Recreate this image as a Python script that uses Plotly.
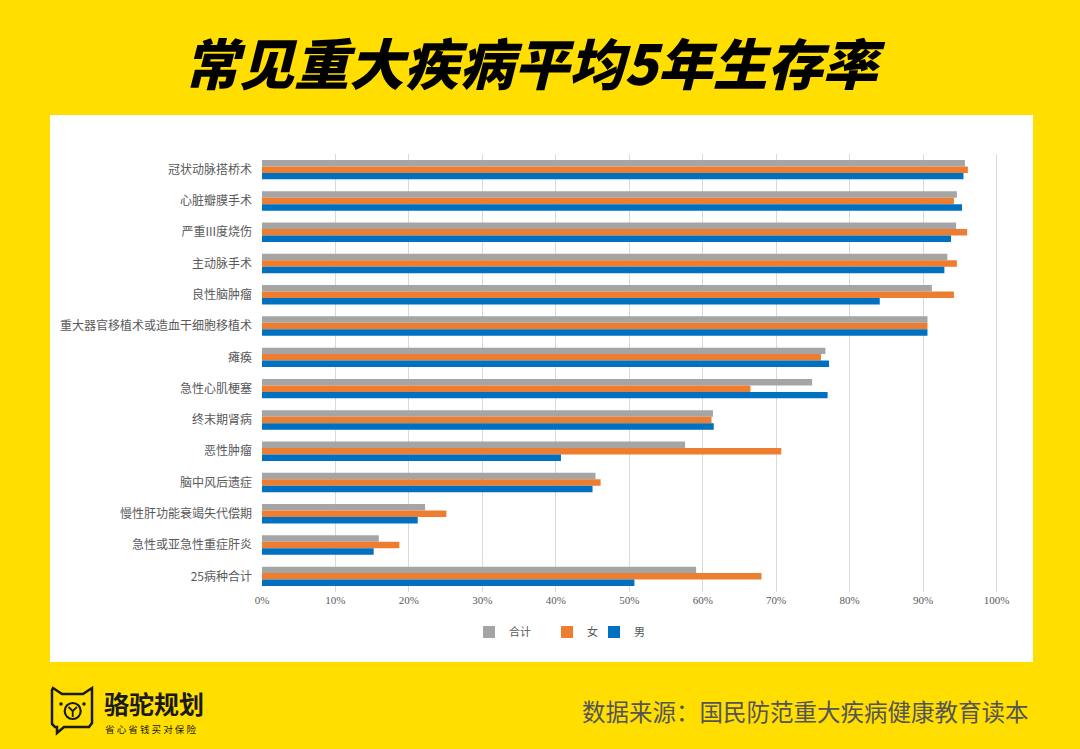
import plotly.graph_objects as go

categories = ["冠状动脉搭桥术", "心脏瓣膜手术", "严重III度烧伤", "主动脉手术", "良性脑肿瘤",
              "重大器官移植术或造血干细胞移植术", "瘫痪", "急性心肌梗塞", "终末期肾病", "恶性肿瘤",
              "脑中风后遗症", "慢性肝功能衰竭失代偿期", "急性或亚急性重症肝炎", "25病种合计"]
total = [95.7, 94.6, 94.5, 93.3, 91.2, 90.6, 76.7, 74.9, 61.4, 57.6, 45.4, 22.2, 15.9, 59.1]
female = [96.1, 94.2, 96.0, 94.6, 94.2, 90.6, 76.1, 66.5, 61.2, 70.7, 46.1, 25.1, 18.7, 68.0]
male = [95.5, 95.3, 93.8, 92.9, 84.1, 90.6, 77.2, 77.0, 61.5, 40.7, 45.0, 21.2, 15.2, 50.7]
x_ticks = list(range(0, 101, 10))

W, H = 1080, 749
L, R, T, B = 262, 998, 154, 592


def px(x):
    return (x - L) / (R - L)


def py(y):
    return (B - y) / (B - T)


YELLOW = "#FFDE00"
TXT = "#595959"
FONT = "Noto Sans CJK SC"

fig = go.Figure()
# legend symbol centre (pixels) for each series
series = [("合计", total, "#A5A5A5", "legend", 489),
          ("女", female, "#ED7D31", "legend2", 567),
          ("男", male, "#0070C0", "legend3", 614)]
legend_layout = {}
for name, vals, col, lg, sym_x in series:
    fig.add_trace(go.Bar(y=categories, x=vals, name=name, orientation="h", legend=lg,
                         marker=dict(color=col, line=dict(width=0))))
    legend_layout[lg] = dict(orientation="h", x=px(sym_x - 20), y=py(632), xanchor="left",
                             yanchor="middle", font=dict(family=FONT, size=11, color=TXT),
                             bgcolor="rgba(0,0,0,0)", itemwidth=30)

shapes = [
    dict(type="rect", xref="paper", yref="paper", x0=px(50), x1=px(1033), y0=py(662), y1=py(115),
         fillcolor="white", line=dict(width=0), layer="below"),
]


def path(pts, close=True):
    s = "M " + " L ".join(f"{px(a):.5f},{py(b):.5f}" for a, b in pts)
    return s + (" Z" if close else "")


# logo outline
outline = [(53, 688), (62, 694), (83, 694), (92, 688), (92, 723), (89, 727), (64, 727), (57, 733),
           (57, 727), (55, 727), (52, 724), (52, 690)]
shapes.append(dict(type="path", xref="paper", yref="paper", path=path(outline),
                   line=dict(color="#1a1a1a", width=2.5)))
for ex in (61, 84):
    shapes.append(dict(type="circle", xref="paper", yref="paper", x0=px(ex - 1.8), x1=px(ex + 1.8),
                       y0=py(704 + 1.8), y1=py(704 - 1.8), fillcolor="#1a1a1a", line=dict(width=0)))
shapes.append(dict(type="circle", xref="paper", yref="paper", x0=px(72.7 - 8), x1=px(72.7 + 8),
                   y0=py(711 + 8), y1=py(711 - 8), line=dict(color="#1a1a1a", width=2.2)))
shapes.append(dict(type="path", xref="paper", yref="paper",
                   path=path([(68.5, 707), (72.7, 711), (77, 707)], close=False),
                   line=dict(color="#1a1a1a", width=1.8)))
shapes.append(dict(type="path", xref="paper", yref="paper",
                   path=path([(72.7, 711), (72.7, 717)], close=False),
                   line=dict(color="#1a1a1a", width=1.8)))

annotations = [
    dict(text="常见重大疾病平均5年生存率", xref="paper", yref="paper", x=px(534), y=py(61),
         xanchor="center", yanchor="middle", showarrow=False,
         font=dict(family=FONT, size=55, color="#000000", weight=900, style="italic")),
    dict(text="<b>骆驼规划</b>", xref="paper", yref="paper", x=px(102), y=py(703),
         xanchor="left", yanchor="middle", showarrow=False,
         font=dict(family=FONT, size=25, color="#1a1a1a")),
    dict(text="省 心 省 钱 买 对 保 险", xref="paper", yref="paper", x=px(103), y=py(729),
         xanchor="left", yanchor="middle", showarrow=False,
         font=dict(family=FONT, size=9.5, color="#1a1a1a")),
    dict(text="数据来源：国民防范重大疾病健康教育读本", xref="paper", yref="paper", x=px(1031), y=py(711),
         xanchor="right", yanchor="middle", showarrow=False,
         font=dict(family=FONT, size=23.5, color="#555555")),
]

fig.update_layout(
    width=W, height=H,
    margin=dict(l=L, r=W - R, t=T, b=H - B, pad=0),
    paper_bgcolor=YELLOW, plot_bgcolor="white",
    barmode="group", bargap=0.38, bargroupgap=0,
    font=dict(family=FONT, size=12, color=TXT),
    showlegend=True,
    shapes=shapes, annotations=annotations,
    **legend_layout,
)
fig.update_xaxes(range=[0, 100.2], tickvals=x_ticks, ticktext=[f"{v}%" for v in x_ticks],
                 showgrid=True, gridcolor="#D9D9D9", gridwidth=1, zeroline=False,
                 showline=False, ticks="", tickfont=dict(size=11, color=TXT, family="Liberation Serif"))
fig.update_yaxes(autorange="reversed", showgrid=False, zeroline=False, showline=False, ticks="",
                 ticklabelstandoff=9, tickfont=dict(size=12, color=TXT, family=FONT))

fig.write_html("out.html")
